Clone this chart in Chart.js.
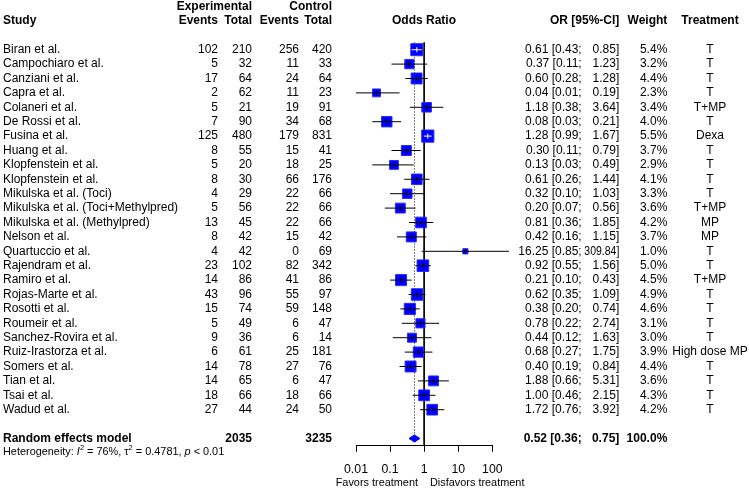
<!DOCTYPE html>
<html><head><meta charset="utf-8">
<script src="https://cdn.jsdelivr.net/npm/chart.js@4/dist/chart.umd.min.js"></script>
<style>html,body{margin:0;padding:0;background:#fff;overflow:hidden}#c{display:block}</style>
</head><body>
<canvas id="c" width="749" height="489"></canvas>
<script>
// ---------- data ----------
const studies = ['Biran et al.','Campochiaro et al.','Canziani et al.','Capra et al.','Colaneri et al.','De Rossi et al.','Fusina et al.','Huang et al.','Klopfenstein et al.','Klopfenstein et al.','Mikulska et al. (Toci)','Mikulska et al. (Toci+Methylpred)','Mikulska et al. (Methylpred)','Nelson et al.','Quartuccio et al.','Rajendram et al.','Ramiro et al.','Rojas-Marte et al.','Rosotti et al.','Roumeir et al.','Sanchez-Rovira et al.','Ruiz-Irastorza et al.','Somers et al.','Tian et al.','Tsai et al.','Wadud et al.'];
const expEvents  = [102,5,17,2,5,7,125,8,5,8,4,5,13,8,4,23,14,43,15,5,9,6,14,14,18,27];
const expTotal   = [210,32,64,62,21,90,480,55,20,30,29,56,45,42,42,102,86,96,74,49,36,61,78,65,66,44];
const ctrlEvents = [256,11,24,11,19,34,179,15,18,66,22,22,22,15,0,82,41,55,59,6,6,25,27,6,18,24];
const ctrlTotal  = [420,33,64,23,91,68,831,41,25,176,66,66,66,42,69,342,86,97,148,47,14,181,76,47,66,50];
const oddsRatio  = [0.61,0.37,0.60,0.04,1.18,0.08,1.28,0.30,0.13,0.61,0.32,0.20,0.81,0.42,16.25,0.92,0.21,0.62,0.38,0.78,0.44,0.68,0.40,1.88,1.00,1.72];
const ciLower    = [0.43,0.11,0.28,0.01,0.38,0.03,0.99,0.11,0.03,0.26,0.10,0.07,0.36,0.16,0.85,0.55,0.10,0.35,0.20,0.22,0.12,0.27,0.19,0.66,0.46,0.76];
const ciUpper    = [0.85,1.23,1.28,0.19,3.64,0.21,1.67,0.79,0.49,1.44,1.03,0.56,1.85,1.15,309.84,1.56,0.43,1.09,0.74,2.74,1.63,1.75,0.84,5.31,2.15,3.92];
const weights    = [5.4,3.2,4.4,2.3,3.4,4.0,5.5,3.7,2.9,4.1,3.3,3.6,4.2,3.7,1.0,5.0,4.5,4.9,4.6,3.1,3.0,3.9,4.4,3.6,4.3,4.2];
const treatments = ['T','T','T','T','T+MP','T','Dexa','T','T','T','T','T+MP','MP','MP','T','T','T+MP','T','T','T','T','High dose MP','T','T','T','T'];
const pooledOR     = [0.52, 0.36, 0.75];   // estimate, lower, upper
const pooledTotals = [2035, 3235];
const pooledWeight = 100.0;
const hetI2 = '76%', hetTau2 = '0.4781', hetP = '< 0.01';
const tickValues = [0.01, 0.1, 1, 10, 100];
const tickLabels = ['0.01', '0.1', '1', '10', '100'];

// ---------- layout / style ----------
const FONT = '"Liberation Sans", Arial, Helvetica, sans-serif';
const TXT = 12;
const BLUE = '#0000FF';
const pooledRow = studies.length + 1;
const DIAMOND_HALF = 0.25;
const Y_MIN = -3.451, Y_MAX = 27.5;
const AXIS_BOTTOM = 445.7;
const sqSide = w => 5.2 * Math.sqrt(w);
const f2 = v => v.toFixed(2);

function ciInside(chart, i) {
  const xs = chart.scales.x;
  const cx = xs.getPixelForValue(oddsRatio[i]);
  const h = sqSide(weights[i]) / 2;
  return xs.getPixelForValue(ciLower[i]) >= cx - h && xs.getPixelForValue(ciUpper[i]) <= cx + h;
}

const ciData = [];
studies.forEach((s, i) => { ciData.push({x: ciLower[i], y: i}, {x: ciUpper[i], y: i}, {x: null, y: null}); });
const ptData = studies.map((s, i) => ({x: oddsRatio[i], y: i}));
const diamond = [
  {x: pooledOR[1], y: pooledRow}, {x: pooledOR[0], y: pooledRow - DIAMOND_HALF},
  {x: pooledOR[2], y: pooledRow}, {x: pooledOR[0], y: pooledRow + DIAMOND_HALF},
  {x: pooledOR[1], y: pooledRow}
];

const textPlugin = {
  id: 'forestText',
  afterDraw(chart) {
    const ctx = chart.ctx, ys = chart.scales.y;
    const Y = r => ys.getPixelForValue(r);
    const put = (t, x, y, align, bold, size, maxW) => {
      ctx.font = (bold ? 'bold ' : '') + (size || TXT) + 'px ' + FONT;
      ctx.textAlign = align; ctx.textBaseline = 'middle'; ctx.fillStyle = '#000';
      if (maxW) ctx.fillText(t, x, y, maxW); else ctx.fillText(t, x, y);
    };
    ctx.save();
    // headers
    put('Experimental', 252, Y(-3), 'right', true);
    put('Control', 332, Y(-3), 'right', true);
    put('Study', 3, Y(-2), 'left', true);
    put('Events', 218, Y(-2), 'right', true);
    put('Total', 252, Y(-2), 'right', true);
    put('Events', 299, Y(-2), 'right', true);
    put('Total', 332, Y(-2), 'right', true);
    put('Odds Ratio', 424, Y(-2), 'center', true);
    put('OR [95%-CI]', 619.3, Y(-2), 'right', true);
    put('Weight', 667.3, Y(-2), 'right', true);
    put('Treatment', 710, Y(-2), 'center', true);
    // rows
    studies.forEach((s, i) => {
      const y = Y(i);
      put(s, 3, y, 'left');
      put(String(expEvents[i]), 218, y, 'right');
      put(String(expTotal[i]), 252, y, 'right');
      put(String(ctrlEvents[i]), 299, y, 'right');
      put(String(ctrlTotal[i]), 332, y, 'right');
      put(f2(oddsRatio[i]) + ' [' + f2(ciLower[i]) + ';', 581.7, y, 'right');
      put(f2(ciUpper[i]) + ']', 619.3, y, 'right', false, TXT, 35);
      put(weights[i].toFixed(1) + '%', 667.3, y, 'right');
      put(treatments[i], 710, y, 'center');
    });
    // pooled
    const yp = Y(pooledRow);
    put('Random effects model', 3, yp, 'left', true);
    put(String(pooledTotals[0]), 252, yp, 'right', true);
    put(String(pooledTotals[1]), 332, yp, 'right', true);
    put(f2(pooledOR[0]) + ' [' + f2(pooledOR[1]) + ';', 581.7, yp, 'right', true);
    put(f2(pooledOR[2]) + ']', 619.3, yp, 'right', true);
    put(pooledWeight.toFixed(1) + '%', 667.3, yp, 'right', true);
    // heterogeneity
    const HS = 10.9, yh = Y(pooledRow + 0.96);
    let x = 3;
    const seg = (t, style, size, dy) => {
      ctx.font = (style ? style + ' ' : '') + (size || HS) + 'px ' + FONT;
      ctx.textAlign = 'left'; ctx.textBaseline = 'middle'; ctx.fillStyle = '#000';
      ctx.fillText(t, x, yh + (dy || 0));
      x += ctx.measureText(t).width;
    };
    seg('Heterogeneity: ');
    seg('I', 'italic');
    seg('2', '', 7.5, -4);
    seg(' = ' + hetI2 + ', \u03C4');
    seg('2', '', 7.5, -4);
    seg(' = ' + hetTau2 + ', ');
    seg('p', 'italic');
    seg(' ' + hetP);
    // axis captions
    const yl = Y(pooledRow + 3.08);
    put('Favors treatment', 418, yl, 'right', false, 10.9);
    put('Disfavors treatment', 430, yl, 'left', false, 10.9);
    ctx.restore();
  }
};

new Chart(document.getElementById('c'), {
  type: 'scatter',
  data: {
    datasets: [
      { // CI lines
        data: ciData, showLine: true, pointRadius: 0, borderWidth: 1, borderColor: '#000',
        spanGaps: false, clip: false, order: 0,
        segment: { borderColor: c => ciInside(c.chart, Math.floor(c.p0DataIndex / 3)) ? '#fff' : '#000' }
      },
      { // centre tick
        data: ptData, pointStyle: 'line', rotation: 90, pointRadius: 2.5, borderWidth: 1, order: 1,
        pointBorderColor: c => ciInside(c.chart, c.dataIndex) ? '#fff' : '#000'
      },
      { // squares
        data: ptData, pointStyle: 'rect', order: 2,
        pointRadius: c => sqSide(weights[c.dataIndex]) / Math.SQRT2,
        pointBackgroundColor: BLUE, pointBorderColor: '#2a2aff', pointBorderWidth: 1
      },
      { // pooled diamond
        data: diamond, showLine: true, pointRadius: 0, borderColor: BLUE, backgroundColor: BLUE,
        borderWidth: 1, fill: 'shape', tension: 0, order: 3
      },
      { // line of no effect
        data: [{x: 1, y: -0.5}, {x: 1, y: Y_MAX}], showLine: true, pointRadius: 0,
        borderColor: '#000', borderWidth: 1, order: 4
      },
      { // pooled estimate dotted line
        data: [{x: pooledOR[0], y: -0.5}, {x: pooledOR[0], y: pooledRow - DIAMOND_HALF}], showLine: true,
        pointRadius: 0, borderColor: '#000', borderWidth: 1, borderDash: [1, 2], order: 5
      }
    ]
  },
  options: {
    responsive: false, animation: false, devicePixelRatio: 1, events: [],
    layout: { autoPadding: false, padding: { left: 356, right: 256.7, top: 0, bottom: 0 } },
    plugins: { legend: { display: false }, tooltip: { enabled: false } },
    scales: {
      x: {
        type: 'logarithmic', min: 0.01, max: 100,
        afterBuildTicks: s => { s.ticks = tickValues.map(v => ({ value: v })); },
        afterFit: s => { s.height = 489 - AXIS_BOTTOM; },
        ticks: {
          color: '#000', padding: 10.2, maxRotation: 0, autoSkip: false,
          font: { family: FONT, size: 12.3 },
          callback: (v, i) => tickLabels[i]
        },
        grid: { drawOnChartArea: false, drawTicks: true, tickLength: 6, color: '#000' },
        border: { display: true, color: '#000', width: 1 }
      },
      y: {
        type: 'linear', reverse: true, min: Y_MIN, max: Y_MAX, bounds: 'data', display: false,
        afterBuildTicks: s => { s.min = Y_MIN; s.max = Y_MAX; }
      }
    }
  },
  plugins: [textPlugin]
});
</script>
</body></html>
